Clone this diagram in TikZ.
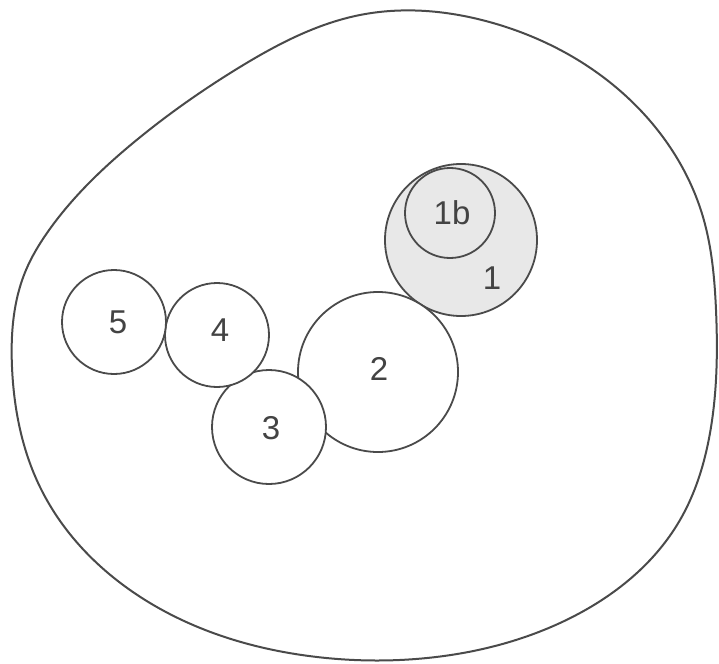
\documentclass[tikz,border=0pt]{standalone}
\usepackage{fontspec}
\setmainfont{Liberation Sans}
\usetikzlibrary{hobby}
\definecolor{ink}{HTML}{4A4A4A}
\definecolor{shade}{HTML}{E8E8E8}
\begin{document}
\begin{tikzpicture}[x=1pt,y=-1pt,
  ring/.style={circle,draw=ink,line width=1.8pt,inner sep=0pt},
  lab/.style={font=\fontsize{33}{33}\selectfont,text=ink!90!black,inner sep=0pt}]
\useasboundingbox (0,0) rectangle (719,663);
% outer boundary
\draw[ink,line width=2pt,use Hobby shortcut,closed=true]
 (47,233) .. (133,143) .. (240,67) .. (360,15) .. (493,23) .. (627,97)
 .. (703,217) .. (716,310) .. (710,433) .. (680,520) .. (560,623)
 .. (427,658) .. (317,657) .. (150,603) .. (40,487) .. (12,367) .. (26,270);
% circles
\node[ring,fill=shade,minimum size=152pt] (c1) at (461,240) {};
\node[ring,fill=shade,minimum size=90pt] (c1b) at (450,213) {};
\node[ring,fill=white,minimum size=160pt] (c2) at (378,372) {};
\node[ring,fill=white,minimum size=114pt] (c3) at (269,427) {};
\node[ring,fill=white,minimum size=104pt] (c4) at (217,335) {};
\node[ring,fill=white,minimum size=104pt] (c5) at (114,322) {};
% labels
\node[lab] (l1b) at (452,213) {1b};
\node[lab] (l1) at (492,278) {1};
\node[lab] (l2) at (379,369) {2};
\node[lab] (l3) at (271,428) {3};
\node[lab] (l4) at (220,330) {4};
\node[lab] (l5) at (118,322) {5};
\end{tikzpicture}
\end{document}
